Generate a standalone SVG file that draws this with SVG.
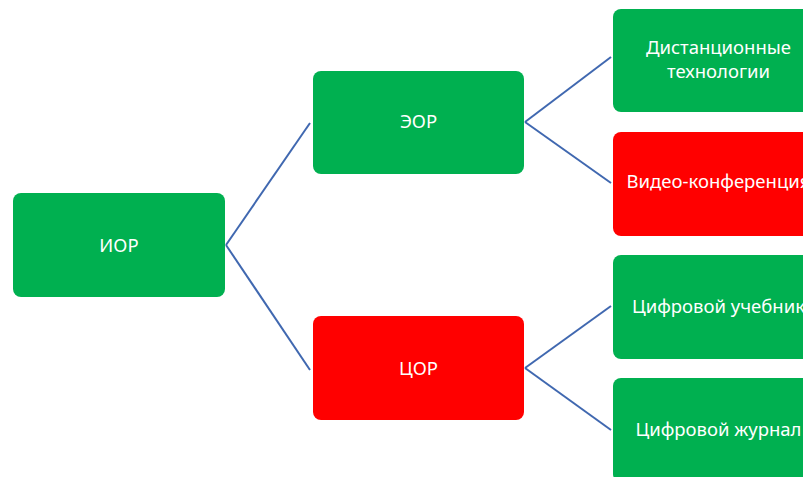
<svg xmlns="http://www.w3.org/2000/svg" width="803" height="477" viewBox="0 0 803 477">
<style>
.g{fill:#00B050}
.r{fill:#FF0000}
text{font-family:"Noto Sans","Open Sans",sans-serif;font-size:18.5px;fill:#fff;text-anchor:middle}
.c line{stroke:#4068B0;stroke-width:2;fill:none}
</style>
<rect width="803" height="477" fill="#fff"/>
<g class="c" id="connectors">
<line x1="226" y1="245" x2="310" y2="123"/>
<line x1="226" y1="245" x2="310" y2="370"/>
<line x1="525" y1="122" x2="611" y2="57"/>
<line x1="525" y1="122" x2="611" y2="183"/>
<line x1="525" y1="368" x2="611" y2="306"/>
<line x1="525" y1="368" x2="611" y2="430"/>
</g>
<g id="ior"><rect class="g" x="13" y="193" width="212" height="104" rx="8"/><text x="119" y="252">ИОР</text></g>
<g id="eor"><rect class="g" x="313" y="71" width="211" height="103" rx="8"/><text x="418.5" y="128">ЭОР</text></g>
<g id="cor"><rect class="r" x="313" y="316" width="211" height="104" rx="8"/><text x="418.5" y="375">ЦОР</text></g>
<g id="dist"><rect class="g" x="613" y="9" width="211" height="103" rx="8"/><text x="718.5" y="54">Дистанционные</text><text x="718.5" y="78">технологии</text></g>
<g id="video"><rect class="r" x="613" y="132" width="211" height="104" rx="8"/><text x="718.5" y="188">Видео-конференция</text></g>
<g id="uchebnik"><rect class="g" x="613" y="255" width="211" height="104" rx="8"/><text x="718.5" y="313">Цифровой учебник</text></g>
<g id="zhurnal"><rect class="g" x="613" y="378" width="211" height="104" rx="8"/><text x="718.5" y="436">Цифровой журнал</text></g>
</svg>
